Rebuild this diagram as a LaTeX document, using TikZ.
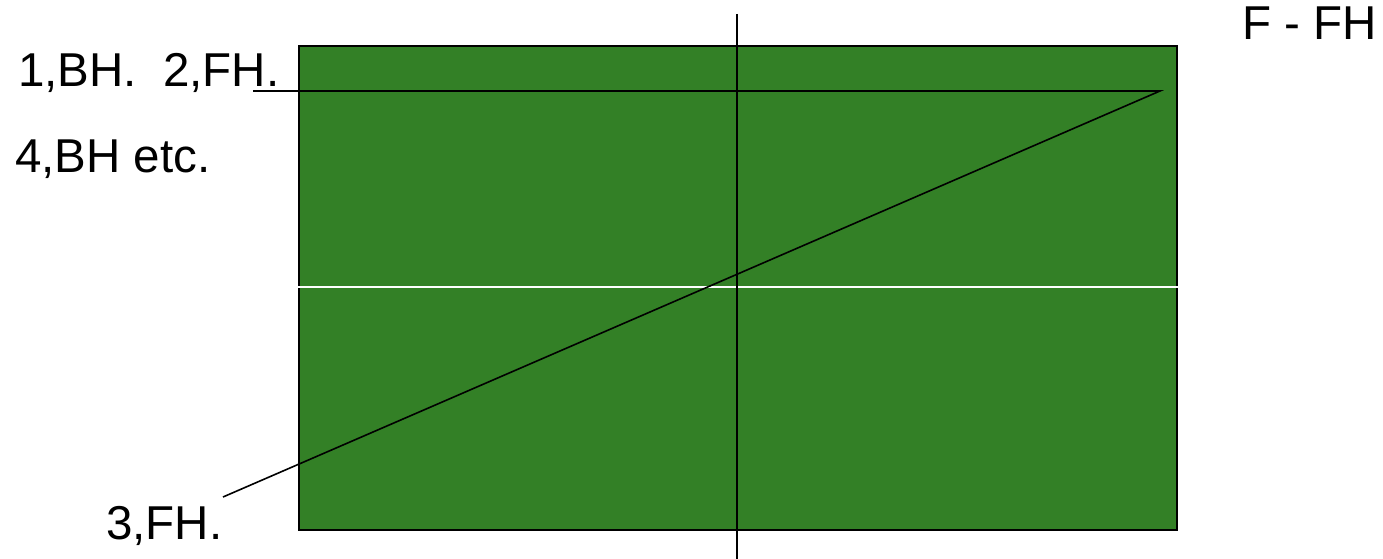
\documentclass[tikz,border=0pt]{standalone}
\usepackage{fontspec}
\setmainfont{Liberation Sans}
\definecolor{fieldgreen}{RGB}{51,128,38}
\begin{document}
\begin{tikzpicture}[x=1pt,y=-1pt,
  lbl/.style={anchor=base west,inner sep=0pt,font=\fontsize{47.5}{56}\selectfont},
  ln/.style={draw=black,line width=1.6pt}]
\useasboundingbox (0,0) rectangle (1383,559);
\node[draw=black,line width=1.6pt,fill=fieldgreen,minimum width=878pt,minimum height=484pt,inner sep=0pt,anchor=north west] (field) at (298,45) {};
\draw[white,line width=2pt] (field.west |- 0,287) coordinate (hl) -- (field.east |- 0,287) coordinate (hr);
\coordinate (vt) at (737,14);
\coordinate (vb) at (737,559);
\draw[ln] (vt) -- (vb);
\coordinate (tip) at (1160,91);
\coordinate (hstart) at (253,91);
\coordinate (dend) at (223,497);
\draw[ln] (hstart) -- (tip) -- (dend);
\node[lbl] (t1) at (18,87) {1,BH.\ \ 2,FH.};
\node[lbl] (t2) at (15,172) {4,BH etc.};
\node[lbl] (t3) at (1242,40) {F - FH};
\node[lbl] (t4) at (106,539) {3,FH.};
\end{tikzpicture}
\end{document}
